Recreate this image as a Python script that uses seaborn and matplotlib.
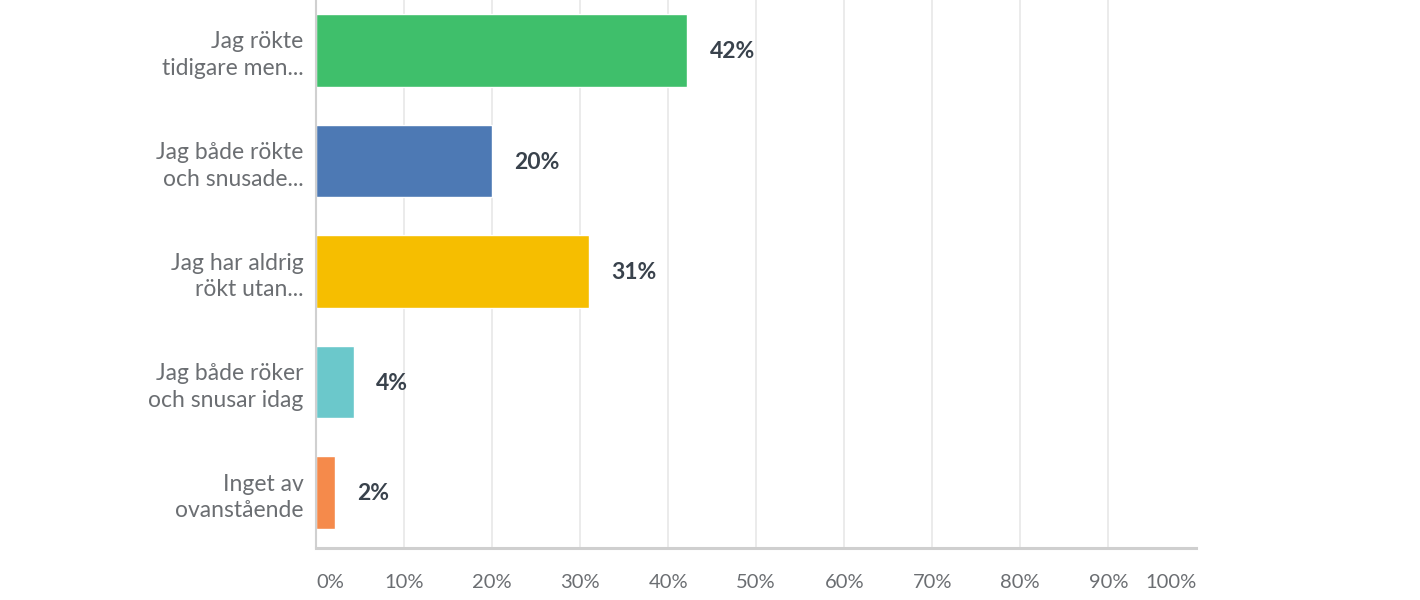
import matplotlib
matplotlib.use("Agg")
import matplotlib.pyplot as plt
import pandas as pd
import seaborn as sns

categories = [
    "Jag rökte\ntidigare men...",
    "Jag både rökte\noch snusade...",
    "Jag har aldrig\nrökt utan...",
    "Jag både röker\noch snusar idag",
    "Inget av\novanstående",
]
percent = [42.2, 20.0, 31.05, 4.3, 2.15]
colors = ["#3fbf6b", "#4d79b4", "#f6be00", "#6bc8cb", "#f58a4b"]
xticks = [0, 10, 20, 30, 40, 50, 60, 70, 80, 90, 100]


def setup_style() -> None:
    sns.set_theme(style="white")
    plt.rcParams["font.family"] = ["Lato", "DejaVu Sans"]
    plt.rcParams["figure.facecolor"] = "white"
    plt.rcParams["axes.facecolor"] = "white"


def main() -> None:
    setup_style()
    df = pd.DataFrame({"svar": categories, "andel": percent})

    fig = plt.figure(figsize=(14.2, 6.0), dpi=100)
    ax = fig.add_axes([0.2225, 0.0867, 0.62, 0.9133])
    sns.barplot(
        data=df,
        x="andel",
        y="svar",
        hue="svar",
        palette=colors,
        orient="h",
        width=0.66,
        legend=False,
        ax=ax,
        saturation=1,
    )

    ax.set_xlim(0, 100)
    ax.set_ylim(4.502, -0.457)
    ax.set_xticks(xticks)
    ax.set_xticklabels([f"{t}%" for t in xticks])
    ax.xaxis.grid(True, color="#e8e8e8", linewidth=1.2)
    ax.get_xgridlines()[-1].set_visible(False)
    ax.get_xgridlines()[0].set_visible(False)
    ax.set_axisbelow(True)

    ax.tick_params(axis="x", length=0, pad=19, labelsize=14.5, labelcolor="#6b6e72")
    ax.tick_params(axis="y", length=0, pad=9, labelsize=16.5, labelcolor="#6b6e72")
    for lbl in ax.get_yticklabels():
        lbl.set_linespacing(1.35)
    ticklabels = ax.get_xticklabels()
    ticklabels[0].set_ha("left")
    ticklabels[-1].set_ha("right")

    for side in ["top", "right"]:
        ax.spines[side].set_visible(False)
    ax.spines["left"].set_color("#d0d0d0")
    ax.spines["left"].set_linewidth(1.5)
    ax.spines["bottom"].set_color("#cfcfcf")
    ax.spines["bottom"].set_linewidth(2.2)

    for i, val in enumerate(percent):
        ax.annotate(
            f"{round(val)}%",
            xy=(val, i),
            xytext=(16, -1),
            textcoords="offset points",
            va="center",
            ha="left",
            fontsize=16.5,
            fontweight="bold",
            color="#39424c",
        )

    ax.set_xlabel("")
    ax.set_ylabel("")
    fig.savefig("out.png", dpi=100, facecolor="white")
    plt.close(fig)


if __name__ == "__main__":
    main()
